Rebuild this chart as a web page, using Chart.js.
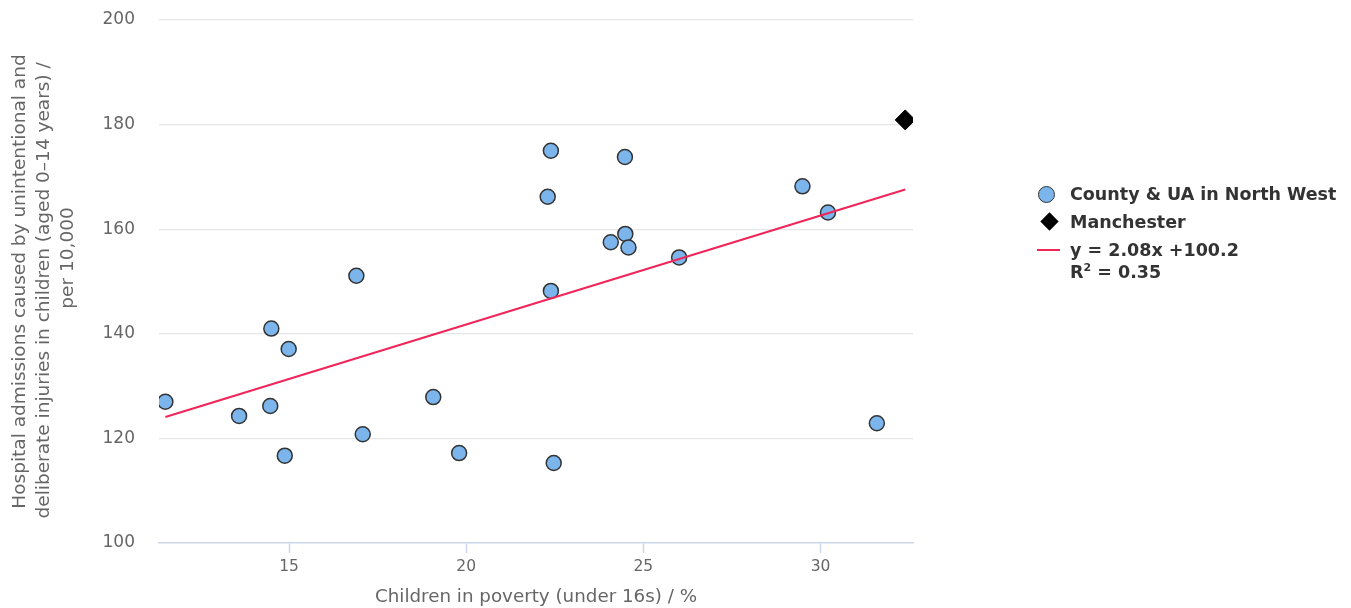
<!DOCTYPE html>
<html lang="en">

<head>
    <meta charset="UTF-8">
    <title>Child poverty vs hospital admissions for injuries</title>
    <script src="https://cdn.jsdelivr.net/npm/chart.js"></script>
    <style>
        body { margin: 0; background: #fff; font-family: "DejaVu Sans", sans-serif; }
        #wrap { position: relative; width: 1351px; height: 608px; }
        #legend { position: absolute; left: 1037px; top: 182px; color: #333; font-weight: bold; font-size: 17.5px; }
        .item { position: relative; min-height: 28px; line-height: 24px; padding-left: 33px; }
        .item.two { line-height: 22px; padding-top: 1px; }
        .dot { position: absolute; left: 1px; top: 4px; width: 15px; height: 15px; border-radius: 50%; background: #7cb5ec; border: 1.5px solid #333; }
        .diamond { position: absolute; left: 6px; top: 5px; width: 13px; height: 13px; background: #000; transform: rotate(45deg); }
        .line { position: absolute; left: 0; top: 11px; width: 23px; height: 2px; background: #f0265a; }
        sup { font-size: 11px; line-height: 0; }
    </style>
</head>

<body>
    <div id="wrap">
        <canvas id="scatterChart"></canvas>
        <div id="legend">
            <div class="item"><span class="dot"></span>County &amp; UA in North West</div>
            <div class="item"><span class="diamond"></span>Manchester</div>
            <div class="item two"><span class="line"></span>y = 2.08x +100.2<br>R<sup>2</sup> = 0.35</div>
        </div>
    </div>

    <script>
        // values
        var countyX = [11.51, 13.59, 14.47, 14.50, 14.88, 14.99, 16.90, 17.08, 19.07, 19.80, 22.30,
            22.39, 22.39, 22.47, 24.08, 24.48, 24.49, 24.58, 26.01, 29.49, 30.21, 31.59];
        var countyY = [127.0, 124.3, 126.2, 141.0, 116.7, 137.1, 151.1, 120.8, 127.9, 117.2, 166.2,
            175.0, 148.2, 115.3, 157.5, 173.8, 159.1, 156.5, 154.6, 168.2, 163.2, 122.9];
        var manchesterX = [32.39];
        var manchesterY = [180.9];
        var trendX = [11.51, 32.39];
        var trendY = [124.1, 167.6];
        var xTicks = [15, 20, 25, 30];
        var yTicks = [100, 120, 140, 160, 180, 200];

        function toPoints(xs, ys) {
            return xs.map(function (x, i) { return { x: x, y: ys[i] }; });
        }

        var ctx = document.getElementById('scatterChart').getContext('2d');
        var chart = new Chart(ctx, {
            type: 'scatter',
            data: {
                datasets: [{
                    type: 'line',
                    label: 'y = 2.08x +100.2',
                    data: toPoints(trendX, trendY),
                    borderColor: '#f0265a',
                    borderWidth: 2.2,
                    pointRadius: 0,
                    fill: false,
                    order: 0
                }, {
                    label: 'Manchester',
                    data: toPoints(manchesterX, manchesterY),
                    pointStyle: 'rectRot',
                    pointRadius: 10,
                    backgroundColor: '#000',
                    borderColor: '#000',
                    borderWidth: 1,
                    order: 1
                }, {
                    label: 'County & UA in North West',
                    data: toPoints(countyX, countyY),
                    pointRadius: 7.5,
                    backgroundColor: '#7cb5ec',
                    borderColor: '#333',
                    borderWidth: 1.5,
                    order: 2
                }]
            },
            options: {
                responsive: true,
                maintainAspectRatio: false,
                animation: false,
                events: [],
                layout: { padding: { left: 0, right: 438, top: 20, bottom: 0 } },
                plugins: { legend: { display: false }, tooltip: { enabled: false } },
                scales: {
                    x: {
                        type: 'linear',
                        min: 11.33,
                        max: 32.61,
                        afterBuildTicks: function (scale) {
                            scale.ticks = xTicks.map(function (v) { return { value: v }; });
                        },
                        afterFit: function (scale) { scale.height = 65; },
                        grid: { drawOnChartArea: false, drawTicks: true, tickLength: 10, tickWidth: 1.5, tickColor: '#ccd6eb', color: '#ccd6eb' },
                        border: { display: true, color: '#ccd6eb', width: 1.5, z: 1 },
                        ticks: { color: '#666', padding: 5, font: { family: 'DejaVu Sans', size: 15.5 } },
                        title: {
                            display: true,
                            text: 'Children in poverty (under 16s) / %',
                            color: '#666',
                            padding: { top: 0, bottom: 0 },
                            font: { family: 'DejaVu Sans', size: 18.3, lineHeight: 1.15 }
                        }
                    },
                    y: {
                        min: 100,
                        max: 200,
                        afterBuildTicks: function (scale) {
                            scale.ticks = yTicks.map(function (v) { return { value: v }; });
                        },
                        afterFit: function (scale) {
                            scale.width = 159;
                            scale.paddingTop = 0;
                            scale.paddingBottom = 0;
                        },
                        grid: {
                            color: function (c) { return c.tick && c.tick.value === 100 ? 'rgba(0,0,0,0)' : '#e6e6e6'; },
                            drawTicks: false,
                            lineWidth: 1.2
                        },
                        border: { display: false },
                        ticks: { color: '#666', padding: 24, font: { family: 'DejaVu Sans', size: 17 } },
                        title: {
                            display: true,
                            text: ['Hospital admissions caused by unintentional and',
                                'deliberate injuries in children (aged 0\u201314 years) /   ',
                                '        per 10,000'],
                            color: '#666',
                            padding: { top: 8, bottom: 0 },
                            font: { family: 'DejaVu Sans', size: 18.5, lineHeight: 1.3 }
                        }
                    }
                }
            }
        });
    </script>
</body>

</html>
